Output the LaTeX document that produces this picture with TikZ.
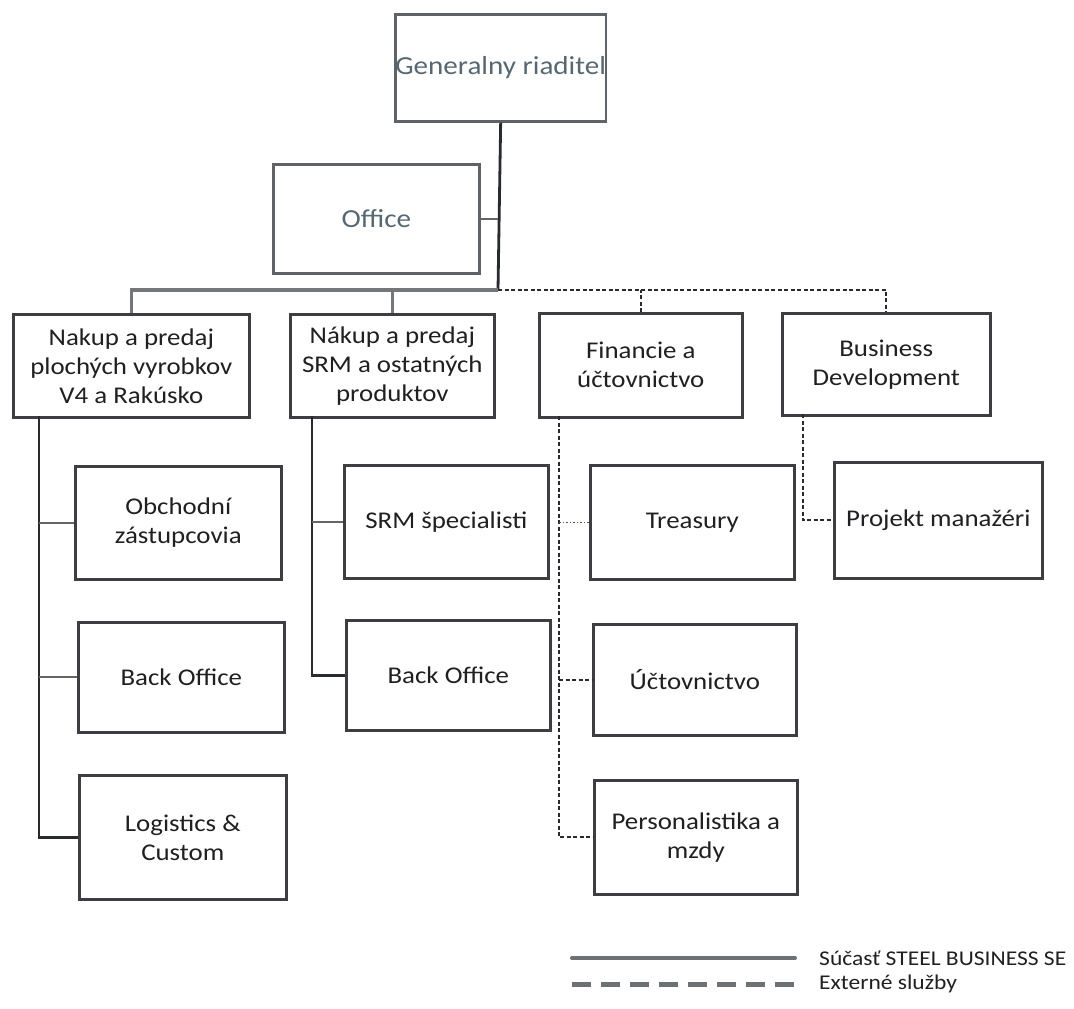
\documentclass[tikz,border=0pt]{standalone}
\usepackage{fontspec}
\setmainfont{Carlito}[FakeStretch=1.12]
\usetikzlibrary{calc}
\definecolor{boxc}{RGB}{62,62,66}
\definecolor{topbox}{RGB}{95,98,102}
\definecolor{toptext}{RGB}{88,104,114}
\definecolor{txt}{RGB}{32,32,34}
\definecolor{barc}{RGB}{115,119,121}
\definecolor{linec}{RGB}{40,42,46}
\definecolor{legc}{RGB}{110,113,115}
\begin{document}
\begin{tikzpicture}[x=1pt,y=-1pt,
  orgbox/.style={draw=boxc, line width=2.6pt, anchor=north west, align=center,
    inner sep=0pt, text=txt, font=\fontsize{24}{29}\selectfont},
  topbx/.style={orgbox, draw=topbox, text=toptext, font=\fontsize{26}{30}\selectfont},
  solidln/.style={draw=linec, line width=2.8pt},
  branchln/.style={draw=boxc!80, line width=1.8pt},
  barln/.style={draw=barc, line width=3.4pt},
  dashln/.style={draw=linec, line width=2.2pt, dash pattern=on 4pt off 2.5pt},
  dotln/.style={draw=linec!80, line width=1.6pt, dash pattern=on 1.5pt off 2pt},
  legtext/.style={anchor=west, inner sep=0pt, text=txt, font=\fontsize{21}{25}\selectfont}
]
\useasboundingbox[fill=white] (0,0) rectangle (1074,1009);

% top level
\node[topbx, minimum width=208pt, minimum height=107pt] (gr) at (394,13) {Generalny riaditel};
\node[topbx, minimum width=206pt, minimum height=109pt] (off) at (272,163) {Office};

% second level
\node[orgbox, minimum width=236pt, minimum height=103pt] (A) at (12,313) {Nakup a predaj\\plochých vyrobkov\\V4 a Rakúsko};
\node[orgbox, minimum width=204pt, minimum height=103pt] (B) at (289,313) {Nákup a predaj\\SRM a ostatných\\produktov};
\node[orgbox, minimum width=203pt, minimum height=104pt] (C) at (538,312) {Financie a\\účtovnictvo};
\node[orgbox, minimum width=208pt, minimum height=102pt] (D) at (781,312) {Business\\Development};

% third level
\node[orgbox, minimum width=206pt, minimum height=113pt] (A1) at (74,465) {Obchodní\\zástupcovia};
\node[orgbox, minimum width=206pt, minimum height=110pt] (A2) at (77,621) {Back Office};
\node[orgbox, minimum width=207pt, minimum height=124pt] (A3) at (78,774) {Logistics \&\\Custom};
\node[orgbox, minimum width=204pt, minimum height=113pt] (B1) at (343,464) {SRM špecialisti};
\node[orgbox, minimum width=204pt, minimum height=110pt] (B2) at (345,619) {Back Office};
\node[orgbox, minimum width=204pt, minimum height=114pt] (C1) at (589,464) {Treasury};
\node[orgbox, minimum width=203pt, minimum height=111pt] (C2) at (592,623) {Účtovnictvo};
\node[orgbox, minimum width=203pt, minimum height=114pt] (C3) at (593,779) {Personalistika a\\mzdy};
\node[orgbox, minimum width=208pt, minimum height=116pt] (D1) at (833,461) {Projekt manažéri};

% junction coordinates
\coordinate (jbar) at (498,290);
\coordinate (aT) at (39,416);
\coordinate (bT) at (312,416);
\coordinate (cT) at (559,416);
\coordinate (dT) at (803,414);

% top connectors
\draw[solidln] (gr.south) -- (jbar);
\draw[branchln] (off.east) -- (off.east -| jbar);
\draw[barln] (A.north) |- (jbar);
\draw[barln] (B.north) -- (B.north |- jbar);
\draw[dashln] (jbar) -| (D.north);
\draw[dashln] (C.north) -- (C.north |- jbar);

% column A
\draw[solidln] (aT) |- (A3.west);
\draw[branchln] (aT |- A1.west) -- (A1.west);
\draw[branchln] (aT |- A2.west) -- (A2.west);
% column B
\draw[solidln] (bT) |- (B2.west);
\draw[branchln] (bT |- B1.west) -- (B1.west);
% column C
\draw[dashln] (cT) |- (C3.west);
\draw[dotln] (cT |- C1.west) -- (C1.west);
\draw[dashln] (cT |- C2.west) -- (C2.west);
% column D
\draw[dashln] (dT) |- (D1.west);

% legend
\coordinate (l1a) at (572,958);
\coordinate (l1b) at (795,958);
\coordinate (l2a) at (572,984);
\coordinate (l2b) at (795,984);
\draw[draw=legc, line width=4pt, line cap=round] (l1a) -- (l1b);
\draw[draw=legc, line width=5pt, dash pattern=on 19pt off 10pt] (l2a) -- (l2b);
\node[legtext] (lt1) at (819,958) {Súčasť STEEL BUSINESS SE};
\node[legtext] (lt2) at (819,984) {Externé služby};
\end{tikzpicture}
\end{document}
